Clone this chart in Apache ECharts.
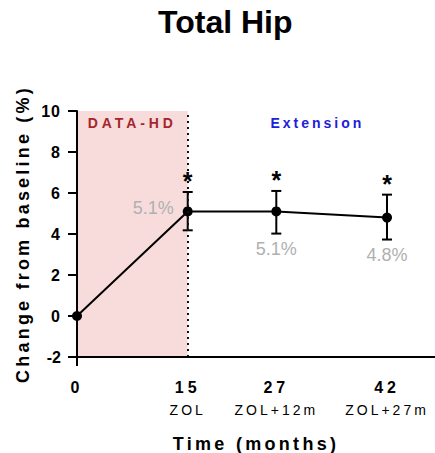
<!DOCTYPE html>
<html>
<head>
<meta charset="utf-8">
<script src="https://cdn.jsdelivr.net/npm/echarts@6/dist/echarts.min.js"></script>
<style>
  html, body { margin: 0; padding: 0; background: #fff; }
  #chart { width: 435px; height: 453px; }
</style>
</head>
<body>
<div id="chart"></div>
<script>
// Total hip: mean % change from baseline, with error bars, across two study phases
const months = [0, 15, 27, 42];
const tickNumbers = ['0', '15', '27', '42'];
const tickSubLabels = ['', 'ZOL', 'ZOL+12m', 'ZOL+27m'];
const meanChange = [0, 5.1, 5.1, 4.8];
const errUpper = [null, 6.05, 6.1, 5.92];
const errLower = [null, 4.18, 4.02, 3.73];
const significant = [false, true, true, true];
const phaseNames = ['DATA-HD', 'Extension'];
const phaseBounds = [0, 15, 48.5];
const yRange = [-2, 10];
const yStep = 2;

const FONT = '"Liberation Sans", Arial, Helvetica, sans-serif';

// extra tracking applied to the drawn SVG text
const tracking = {
  'Change from baseline (%)': 3.2,
  'Time (months)': 3.3,
  'DATA-HD': 3.9,
  'Extension': 3,
  'ZOL': 3, 'ZOL+12m': 3, 'ZOL+27m': 3
};

const chart = echarts.init(document.getElementById('chart'), null, { renderer: 'svg' });

const lineData = months.map((m, i) => [m, meanChange[i]]);
const barData = months.map((m, i) => [
  m, meanChange[i],
  errUpper[i] == null ? meanChange[i] : errUpper[i],
  errLower[i] == null ? meanChange[i] : errLower[i]
]);

const option = {
  animation: false,
  backgroundColor: '#fff',
  title: {
    text: 'Total Hip',
    left: 153,
    top: 1,
    textStyle: { fontFamily: FONT, fontSize: 32, fontWeight: 'bold', color: '#000' }
  },
  grid: { left: 77, right: 0, top: 111, bottom: 96, containLabel: false, outerBoundsMode: 'none' },
  xAxis: {
    type: 'value',
    min: phaseBounds[0],
    max: phaseBounds[2],
    z: 10,
    splitLine: { show: false },
    axisLine: { onZero: false, lineStyle: { color: '#000', width: 2 } },
    axisTick: { show: true, customValues: [0], length: 9, lineStyle: { color: '#000', width: 2 } },
    axisLabel: {
      customValues: months,
      margin: 19,
      formatter: function (v) {
        const i = months.indexOf(v);
        if (i < 0) return '';
        return tickSubLabels[i] ? '{n|' + tickNumbers[i] + '}\n{s|' + tickSubLabels[i] + '}' : '{n|' + tickNumbers[i] + '}';
      },
      rich: {
        n: { fontFamily: FONT, fontSize: 16, fontWeight: 'bold', color: '#000', lineHeight: 22 },
        s: { fontFamily: FONT, fontSize: 14, color: '#000', lineHeight: 24 }
      }
    },
    name: 'Time (months)',
    nameLocation: 'middle',
    nameGap: 78,
    nameTextStyle: { fontFamily: FONT, fontSize: 18, fontWeight: 'bold', color: '#000' }
  },
  yAxis: {
    type: 'value',
    min: yRange[0],
    max: yRange[1],
    interval: yStep,
    z: 10,
    splitLine: { show: false },
    axisLine: { lineStyle: { color: '#000', width: 2 } },
    axisTick: { length: 9, lineStyle: { color: '#000', width: 2 } },
    axisLabel: { margin: 16, fontFamily: FONT, fontSize: 16, fontWeight: 'bold', color: '#000' },
    name: 'Change from baseline (%)',
    nameLocation: 'middle',
    nameGap: 37,
    nameTextStyle: { fontFamily: FONT, fontSize: 18, fontWeight: 'bold', color: '#000' }
  },
  series: [
    {
      type: 'line',
      data: lineData,
      z: 3,
      symbol: 'circle',
      symbolSize: 10,
      itemStyle: { color: '#000' },
      lineStyle: { color: '#000', width: 2 },
      markArea: {
        silent: true,
        data: [
          [
            { xAxis: phaseBounds[0], name: phaseNames[0],
              itemStyle: { color: '#f8dcdc' },
              label: { color: '#a4262c' } },
            { xAxis: phaseBounds[1] }
          ],
          [
            { xAxis: phaseBounds[1], name: phaseNames[1],
              itemStyle: { color: 'rgba(0,0,0,0)' },
              label: { color: '#2020d8', offset: [6, 0] } },
            { xAxis: phaseBounds[2] }
          ]
        ],
        label: {
          show: true,
          position: 'insideTop',
          distance: 5,
          fontFamily: FONT,
          fontSize: 14,
          fontWeight: 'bold'
        }
      },
      markLine: {
        silent: true,
        symbol: ['none', 'none'],
        label: { show: false },
        lineStyle: { color: '#111', width: 2, type: [2, 4] },
        data: [{ xAxis: phaseBounds[1] }]
      }
    },
    {
      type: 'custom',
      z: 4,
      data: barData,
      encode: { x: 0, y: [1, 2, 3] },
      renderItem: function (params, api) {
        const i = params.dataIndex;
        const x = api.value(0);
        const pMid = api.coord([x, api.value(1)]);
        const pHi = api.coord([x, api.value(2)]);
        const pLo = api.coord([x, api.value(3)]);
        const px = pMid[0];
        const stroke = { stroke: '#000', lineWidth: 2 };
        const kids = [];
        if (errUpper[i] != null) {
          kids.push({ type: 'line', shape: { x1: px, y1: pHi[1], x2: px, y2: pLo[1] }, style: stroke });
          kids.push({ type: 'line', shape: { x1: px - 5, y1: pHi[1], x2: px + 5, y2: pHi[1] }, style: stroke });
          kids.push({ type: 'line', shape: { x1: px - 5, y1: pLo[1], x2: px + 5, y2: pLo[1] }, style: stroke });
        }
        if (significant[i]) {
          kids.push({ type: 'text', style: {
            text: '*', x: px, y: pHi[1] - 11, align: 'center', verticalAlign: 'middle',
            font: 'bold 25px ' + FONT, fill: '#000' } });
        }
        if (i > 0) {
          const txt = meanChange[i].toFixed(1) + '%';
          const style = i === 1
            ? { text: txt, x: px - 14, y: pMid[1] - 3, align: 'right', verticalAlign: 'middle' }
            : { text: txt, x: px, y: pLo[1] + 15, align: 'center', verticalAlign: 'middle' };
          style.font = '18px ' + FONT;
          style.fill = '#b0b0b0';
          kids.push({ type: 'text', style: style });
        }
        return { type: 'group', children: kids };
      }
    }
  ]
};

function applyTracking() {
  document.querySelectorAll('#chart svg text').forEach(function (t) {
    const s = t.textContent;
    let sp = tracking[s];
    if (sp == null && /^\d+$/.test(s)) {
      sp = t.getAttribute('text-anchor') === 'end' ? 1 : 4;
    }
    if (sp != null) t.style.letterSpacing = sp + 'px';
  });
}

chart.on('finished', applyTracking);
chart.setOption(option);
applyTracking();
setTimeout(applyTracking, 50);
setTimeout(applyTracking, 300);
</script>
</body>
</html>
